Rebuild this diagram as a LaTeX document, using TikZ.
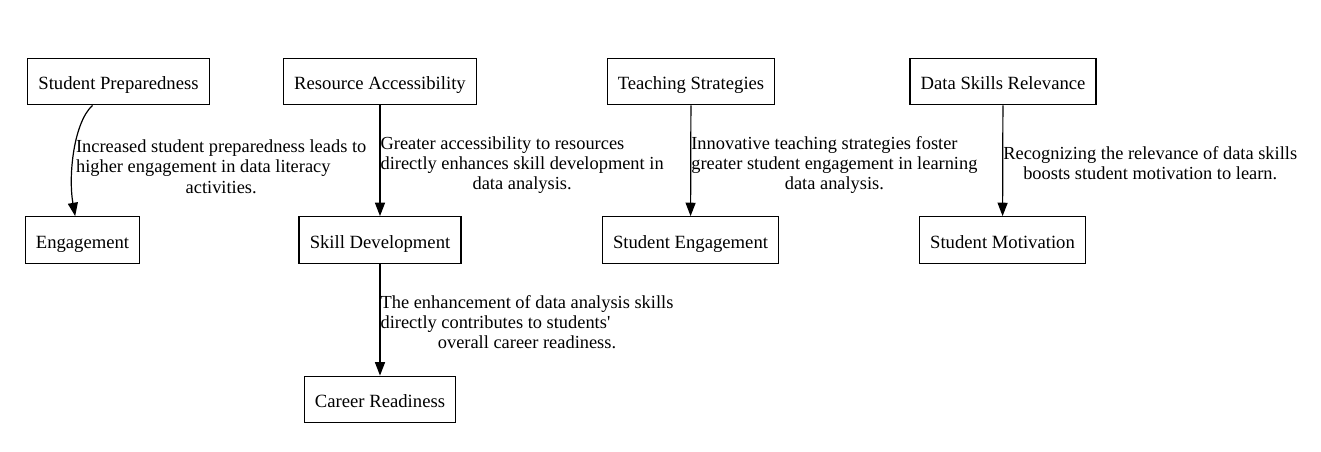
\documentclass[tikz,border=0pt]{standalone}
\usepackage{fontspec}
\setmainfont{Liberation Serif}
\usepackage{tikz}
\usetikzlibrary{arrows.meta}
\usetikzlibrary{positioning}
\newcommand{\lastline}[1]{\multicolumn{1}{@{}c@{}}{#1}}

\begin{document}
\begin{tikzpicture}[x=0.75pt, y=-0.75pt, >={Triangle[length=10pt,width=7.5pt]},
  font=\fontsize{14}{15.2}\selectfont,
  box/.style={draw, line width=0.9pt, inner xsep=8pt, minimum height=35pt,
              text height=13pt, text depth=1pt},
  link/.style={->, line width=0.9pt},
  elabel/.style={inner sep=0pt, right=0pt, yshift=-3.5pt,
                 font=\fontsize{13.8}{15.2}\selectfont}]

\useasboundingbox (0,0) rectangle (1321,451);

\foreach \n/\x/\t in {prep/118.5/Student Preparedness, access/380/Resource Accessibility,
                      teach/691/Teaching Strategies, relev/1003/Data Skills Relevance}
  \node [box] (\n) at (\x,81.5) {\t};

\foreach \n/\x/\t in {engage/82.5/Engagement, skill/380/Skill Development,
                      studeng/690.5/Student Engagement, motiv/1002.5/Student Motivation}
  \node [box] (\n) at (\x,240) {\t};

\node [box] (career) at (380,399.5) {Career Readiness};

\draw [link] ([xshift=-19.5pt]prep.south) .. controls (74,122) and (68,175) .. ([xshift=-5.5pt]engage.north)
  node [elabel, pos=0.6, right=2pt] {\begin{tabular}{@{}l@{}}Increased student preparedness leads to\\
    higher engagement in data literacy\\ \lastline{activities.}\end{tabular}};

\draw [link] (access) -- (skill)
  node [elabel, midway] {\begin{tabular}{@{}l@{}}Greater accessibility to resources\\
    directly enhances skill development in\\ \lastline{data analysis.}\end{tabular}};

\draw [link] (teach) -- (studeng)
  node [elabel, midway] {\begin{tabular}{@{}l@{}}Innovative teaching strategies foster\\
    greater student engagement in learning\\ \lastline{data analysis.}\end{tabular}};

\draw [link] (relev) -- (motiv)
  node [elabel, midway] {\begin{tabular}{@{}l@{}}Recognizing the relevance of data skills\\
    \lastline{boosts student motivation to learn.}\end{tabular}};

\draw [link] (skill) -- (career)
  node [elabel, midway] {\begin{tabular}{@{}l@{}}The enhancement of data analysis skills\\
    directly contributes to students\textquotesingle\\ \lastline{overall career readiness.}\end{tabular}};

\end{tikzpicture}
\end{document}
